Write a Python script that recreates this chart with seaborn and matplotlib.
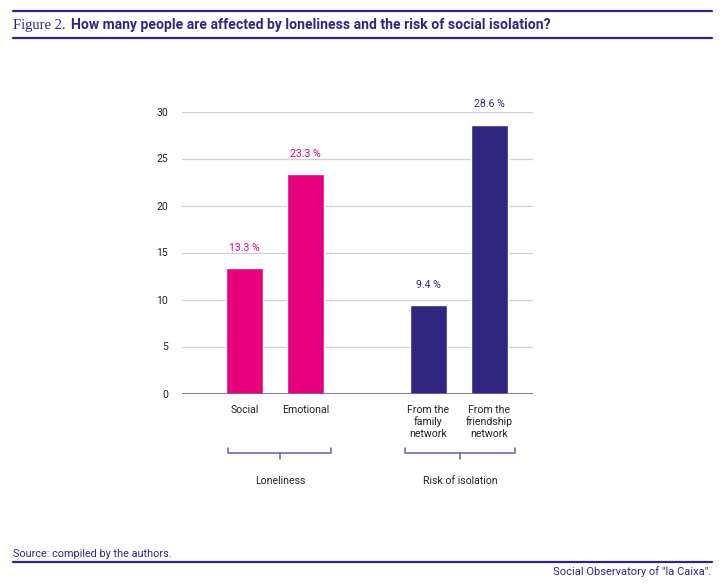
import matplotlib
matplotlib.use("Agg")
import matplotlib.pyplot as plt
import matplotlib.transforms as mtrans
import seaborn as sns
import pandas as pd

# data
categories = ['Social', 'Emotional', 'From the\nfamily\nnetwork', 'From the\nfriendship\nnetwork']
values = [13.3, 23.3, 9.4, 28.6]
groups = ['Loneliness', 'Loneliness', 'Risk of isolation', 'Risk of isolation']
yticks = [0, 5, 10, 15, 20, 25, 30]

PINK = '#e6007e'
NAVY = '#302681'
GRID = '#cfcce6'
BASE = '#6661a8'

df = pd.DataFrame({'category': categories, 'value': values, 'group': groups})
# empty slot between the two groups
order = categories[:2] + [' '] + categories[2:]
palette = {'Loneliness': PINK, 'Risk of isolation': NAVY}

sns.set_theme(style='white')
plt.rcParams['font.family'] = ['Roboto', 'DejaVu Sans']

fig = plt.figure(figsize=(7.2, 5.85), dpi=100)
ax = fig.add_axes([182 / 720, 1 - 393.5 / 585, (533 - 182) / 720, (393.5 - 111.5) / 585])

sns.barplot(data=df, x='category', y='value', hue='group', order=order,
            palette=palette, width=0.6, dodge=False, legend=False, ax=ax,
            saturation=1)

ax.set_xlim(-1.02, 4.71)
ax.set_ylim(0, 30)
ax.set_yticks(yticks)
ax.set_yticklabels([str(t) for t in yticks])
for t in yticks[1:]:
    ax.axhline(t, color=GRID, lw=0.9, zorder=0)
ax.axhline(0, color=BASE, lw=1.2, zorder=3)
for s in ax.spines.values():
    s.set_visible(False)
ax.tick_params(axis='both', length=0, labelsize=7.6, labelcolor='#222222')
ax.tick_params(axis='y', pad=10)
ax.tick_params(axis='x', pad=8)
ax.set_xlabel('')
ax.set_ylabel('')
for lab in ax.get_xticklabels():
    lab.set_multialignment('center')

# value labels
for cat, val, grp in zip(categories, values, groups):
    xpos = order.index(cat)
    ax.annotate(f'{val:.1f} %', (xpos, val), xytext=(0, 11), textcoords='offset points',
                ha='center', va='bottom', fontsize=7.6, color=palette[grp])

# group brackets spanning the tick labels of each group
fig.canvas.draw()
renderer = fig.canvas.get_renderer()
inv = ax.transData.inverted()
labels = {lab.get_text(): lab for lab in ax.get_xticklabels()}
trans = mtrans.blended_transform_factory(ax.transData, ax.transAxes)
for grp in ['Loneliness', 'Risk of isolation']:
    cats = [c for c, g in zip(categories, groups) if g == grp]
    boxes = [labels[c].get_window_extent(renderer) for c in cats]
    x0 = inv.transform((min(b.x0 for b in boxes) - 2, 0))[0]
    x1 = inv.transform((max(b.x1 for b in boxes) + 2, 0))[0]
    xm = (x0 + x1) / 2
    y_line, y_tick, y_mid = -0.211, -0.193, -0.232
    ax.plot([x0, x0, x1, x1], [y_tick, y_line, y_line, y_tick], color=BASE, lw=1.1,
            transform=trans, clip_on=False)
    ax.plot([xm, xm], [y_line, y_mid], color=BASE, lw=1.1, transform=trans, clip_on=False)
    ax.text(xm, -0.31, grp, transform=trans, ha='center', va='center',
            fontsize=7.6, color='#222222')

# header and footer rules
for y in [11, 38, 562]:
    fig.add_artist(plt.Line2D([13 / 720, 712 / 720], [1 - y / 585] * 2, color=NAVY, lw=1.6))

fig.text(13 / 720, 1 - 25 / 585, 'Figure 2.', family=['Liberation Serif'], fontsize=10.5,
         color=NAVY, va='center', ha='left')
fig.text(71 / 720, 1 - 25 / 585, 'How many people are affected by loneliness and the risk of social isolation?',
         fontsize=10.1, fontweight='bold', color=NAVY, va='center', ha='left')
fig.text(13 / 720, 1 - 554 / 585, 'Source: compiled by the authors.', fontsize=7.8,
         color=NAVY, va='center', ha='left')
fig.text(711 / 720, 1 - 572 / 585, 'Social Observatory of "la Caixa".', fontsize=8,
         color=NAVY, va='center', ha='right')

fig.savefig('out.png', dpi=100)
